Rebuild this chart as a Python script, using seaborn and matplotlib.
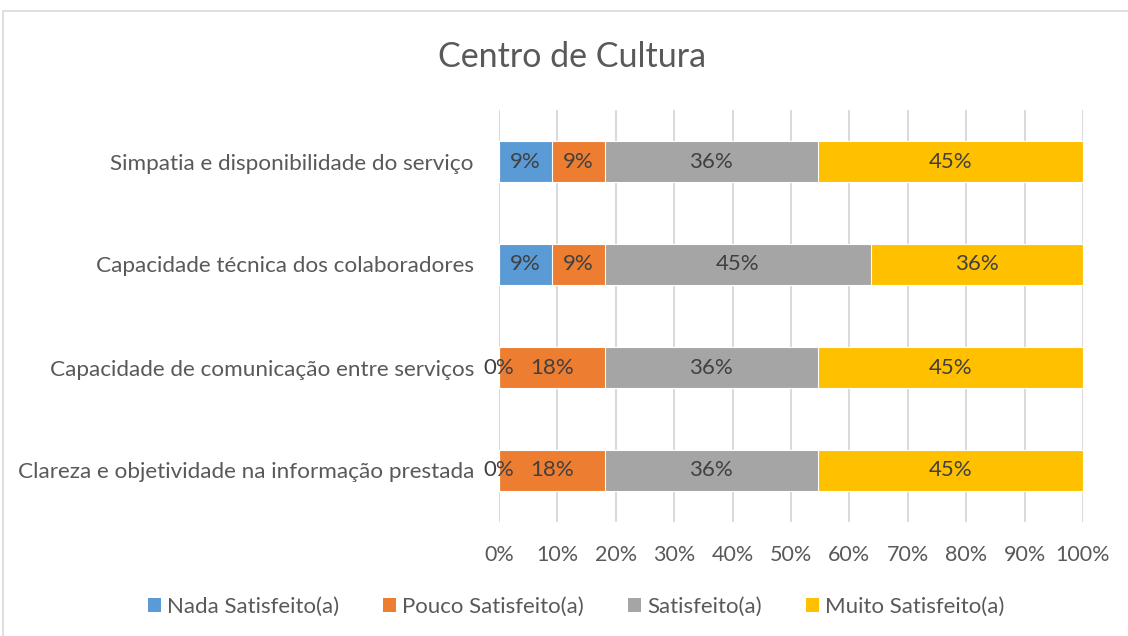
import matplotlib
matplotlib.use("Agg")
import matplotlib.pyplot as plt
from matplotlib.patches import Rectangle, Patch
import seaborn as sns
import pandas as pd
import numpy as np

# Survey responses per item (number of respondents per satisfaction level)
items = [
    "Simpatia e disponibilidade do serviço",
    "Capacidade técnica dos colaboradores",
    "Capacidade de comunicação entre serviços",
    "Clareza e objetividade na informação prestada",
]
levels = ["Nada Satisfeito(a)", "Pouco Satisfeito(a)", "Satisfeito(a)", "Muito Satisfeito(a)"]
nada = [1, 1, 0, 0]
pouco = [1, 1, 2, 2]
satisfeito = [4, 5, 4, 4]
muito = [5, 4, 5, 5]
colors = ["#5B9BD5", "#ED7D31", "#A5A5A5", "#FFC000"]
x_ticks = list(range(0, 101, 10))

sns.set_theme(style="white")
plt.rcParams["font.family"] = ["Lato", "DejaVu Sans"]

counts = np.array([nada, pouco, satisfeito, muito], dtype=float)  # levels x items
shares = counts / counts.sum(axis=0) * 100
cum = np.cumsum(shares, axis=0)

fig = plt.figure(figsize=(11.28, 6.36), dpi=100)
ax = fig.add_axes([499 / 1128, 1 - 522 / 636, 584 / 1128, 412 / 636])

# Stacked bars: draw cumulative totals from the outermost layer inward
for i in range(len(levels) - 1, -1, -1):
    df = pd.DataFrame({"item": items, "value": cum[i]})
    sns.barplot(data=df, x="value", y="item", order=items, color=colors[i],
                saturation=1, width=0.4, edgecolor="white", linewidth=0.8,
                orient="h", ax=ax, zorder=3)

# Segment value labels
for i in range(len(levels)):
    for j in range(len(items)):
        start = cum[i][j] - shares[i][j]
        center = start + shares[i][j] / 2
        ax.text(center, j, f"{round(shares[i][j])}%", ha="center", va="center",
                fontsize=16, color="#404040", zorder=5)

ax.set_xlim(0, 100)
ax.set_ylim(len(items) - 0.5, -0.5)
ax.set_xticks(x_ticks)
ax.set_xticklabels([f"{t}%" for t in x_ticks])
ax.set_xlabel("")
ax.set_ylabel("")
ax.grid(axis="x", color="#D9D9D9", linewidth=1.4, zorder=0)
ax.grid(axis="y", visible=False)
for s in ax.spines.values():
    s.set_visible(False)
ax.tick_params(axis="x", length=0, pad=16.5, labelsize=15.5, labelcolor="#595959")
ax.tick_params(axis="y", length=0, pad=18, labelsize=16.2, labelcolor="#595959")

fig.text(572 / 1128, 1 - 57 / 636, "Centro de Cultura", ha="center", va="center",
         fontsize=24.5, color="#595959")

handles = [Patch(facecolor=c, edgecolor="none") for c in colors]
fig.legend(handles, levels, loc="center", bbox_to_anchor=(576 / 1128, 1 - 607 / 636),
           ncol=4, frameon=False, fontsize=16, labelcolor="#595959",
           handlelength=0.6, handleheight=0.6, handletextpad=0.25, columnspacing=2.0)

# Chart area border
fig.add_artist(Rectangle((3 / 1128, -0.1), 1.2, 1 - 11 / 636 + 0.1, transform=fig.transFigure,
                         fill=False, edgecolor="#D9D9D9", linewidth=1.2))

fig.savefig("out.png", dpi=100)
